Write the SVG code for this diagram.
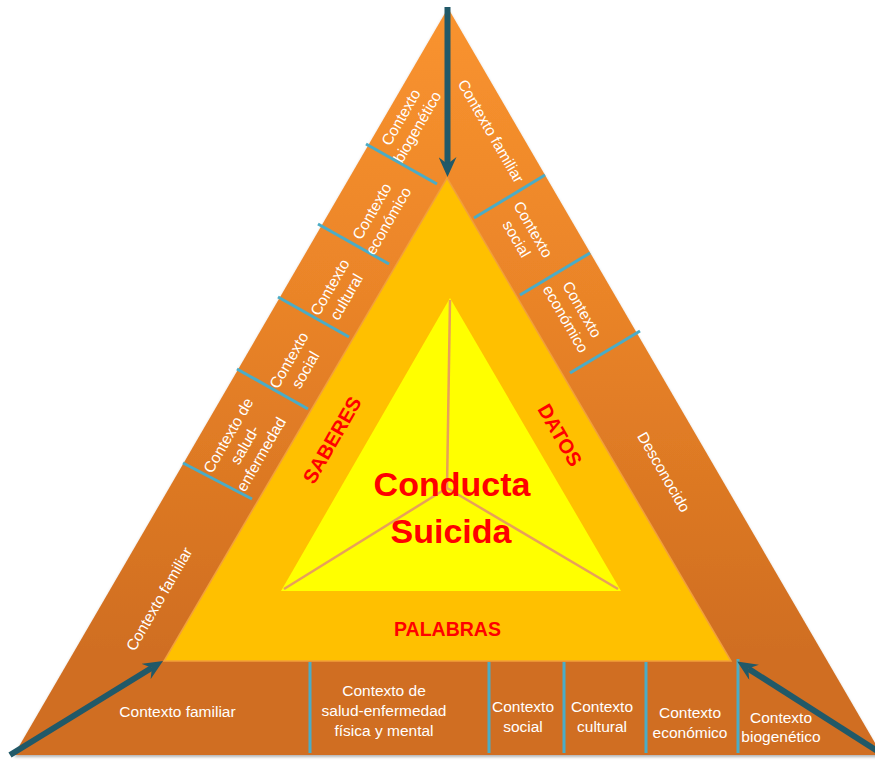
<svg xmlns="http://www.w3.org/2000/svg" width="875" height="760" viewBox="0 0 875 760">
  <defs>
    <linearGradient id="bandGrad" gradientUnits="userSpaceOnUse" x1="0" y1="8" x2="0" y2="650">
      <stop offset="0" stop-color="#F9932F"/>
      <stop offset="0.45" stop-color="#EA8428"/>
      <stop offset="1" stop-color="#D06E20"/>
    </linearGradient>
    <filter id="shadow" x="-5%" y="-5%" width="110%" height="110%">
      <feDropShadow dx="0" dy="2" stdDeviation="1.5" flood-color="#000" flood-opacity="0.3"/>
    </filter>
    <marker id="head" viewBox="0 0 20 18" refX="7" refY="9" markerWidth="20" markerHeight="18" markerUnits="userSpaceOnUse" orient="auto">
      <path d="M0,0 L20,9 L0,18 L7,9 Z" fill="#215968"/>
    </marker>
    <style>
      .lbl { font-family: "Liberation Sans", Arial, sans-serif; font-size: 15.5px; fill: #FFFFFF; text-anchor: middle; }
      .red { font-family: "Liberation Sans", Arial, sans-serif; font-weight: bold; fill: #FF0000; text-anchor: middle; }
      .sep { stroke: #4BACC6; stroke-width: 3; fill: none; }
      .spoke { stroke: #E8A05A; stroke-width: 2.5; fill: none; }
      .arrow { stroke: #215968; stroke-width: 6; fill: none; marker-end: url(#head); }
    </style>
  </defs>

  <rect width="875" height="760" fill="#FFFFFF"/>

  <g id="outer-triangle">
    <polygon points="448,8 882,755 14,755" fill="url(#bandGrad)" filter="url(#shadow)"/>
  </g>

  <g id="middle-triangle">
    <polygon points="447,178 731,661 164,661" fill="#FFC000" stroke="#F2A03A" stroke-width="1.5"/>
    <text class="red" font-size="20" transform="translate(332,440) rotate(-60)" y="7">SABERES</text>
    <text class="red" font-size="20" transform="translate(560,435) rotate(60)" y="7">DATOS</text>
    <text class="red" font-size="19.5" x="447.5" y="636">PALABRAS</text>
  </g>

  <g id="inner-triangle">
    <polygon points="450,298 621,591 281,591" fill="#FFFF00"/>
    <line class="spoke" x1="450" y1="300" x2="447" y2="488"/>
    <line class="spoke" x1="447" y1="488" x2="284" y2="589"/>
    <line class="spoke" x1="447" y1="488" x2="618" y2="589"/>
    <text class="red" font-size="34" x="452" y="496">Conducta</text>
    <text class="red" font-size="34" x="451" y="543">Suicida</text>
  </g>

  <g id="separators">
    <line class="sep" x1="366" y1="144" x2="437" y2="184"/>
    <line class="sep" x1="318" y1="224" x2="389" y2="264"/>
    <line class="sep" x1="278" y1="297" x2="349" y2="337"/>
    <line class="sep" x1="237" y1="369" x2="308" y2="409"/>
    <line class="sep" x1="183" y1="463" x2="252" y2="499"/>
    <line class="sep" x1="545" y1="175" x2="474" y2="218"/>
    <line class="sep" x1="590" y1="253" x2="520" y2="295"/>
    <line class="sep" x1="640" y1="331" x2="570" y2="373"/>
    <line class="sep" x1="310" y1="662" x2="310" y2="753"/>
    <line class="sep" x1="489" y1="662" x2="489" y2="753"/>
    <line class="sep" x1="564" y1="662" x2="564" y2="753"/>
    <line class="sep" x1="646" y1="662" x2="646" y2="753"/>
    <line class="sep" x1="738" y1="659" x2="738" y2="753"/>
  </g>

  <g id="left-band">
    <text class="lbl" transform="translate(409,122) rotate(-60)"><tspan x="0" y="-4">Contexto</tspan><tspan x="0" y="15">biogenético</tspan></text>
    <text class="lbl" transform="translate(380,216) rotate(-60)"><tspan x="0" y="-4">Contexto</tspan><tspan x="0" y="15">económico</tspan></text>
    <text class="lbl" transform="translate(338,292) rotate(-60)"><tspan x="0" y="-4">Contexto</tspan><tspan x="0" y="15">cultural</tspan></text>
    <text class="lbl" transform="translate(297,365) rotate(-60)"><tspan x="0" y="-4">Contexto</tspan><tspan x="0" y="15">social</tspan></text>
    <text class="lbl" transform="translate(245,445) rotate(-60)"><tspan x="0" y="-14">Contexto de</tspan><tspan x="0" y="5">salud-</tspan><tspan x="0" y="24">enfermedad</tspan></text>
    <text class="lbl" transform="translate(159,599) rotate(-60)" y="5.5">Contexto familiar</text>
  </g>

  <g id="right-band">
    <text class="lbl" transform="translate(491,131) rotate(60)" y="5.5">Contexto familiar</text>
    <text class="lbl" transform="translate(525,234) rotate(60)"><tspan x="0" y="-4">Contexto</tspan><tspan x="0" y="15">social</tspan></text>
    <text class="lbl" transform="translate(574,314) rotate(60)"><tspan x="0" y="-4">Contexto</tspan><tspan x="0" y="15">económico</tspan></text>
    <text class="lbl" transform="translate(664,472) rotate(60)" y="5.5">Desconocido</text>
  </g>

  <g id="bottom-band">
    <text class="lbl" x="177.5" y="717">Contexto familiar</text>
    <text class="lbl"><tspan x="384" y="696">Contexto de</tspan><tspan x="384" y="716">salud-enfermedad</tspan><tspan x="384" y="736">física y mental</tspan></text>
    <text class="lbl"><tspan x="523" y="712">Contexto</tspan><tspan x="523" y="732">social</tspan></text>
    <text class="lbl"><tspan x="602" y="712">Contexto</tspan><tspan x="602" y="732">cultural</tspan></text>
    <text class="lbl"><tspan x="690" y="718">Contexto</tspan><tspan x="690" y="738">económico</tspan></text>
    <text class="lbl"><tspan x="781" y="723">Contexto</tspan><tspan x="781" y="742">biogenético</tspan></text>
  </g>

  <g id="connectors">
    <line class="arrow" x1="447.5" y1="7" x2="447.5" y2="164"/>
    <line class="arrow" x1="10" y1="755" x2="151.9" y2="667.8"/>
    <line class="arrow" x1="882" y1="754" x2="748.2" y2="668.6"/>
  </g>
</svg>
